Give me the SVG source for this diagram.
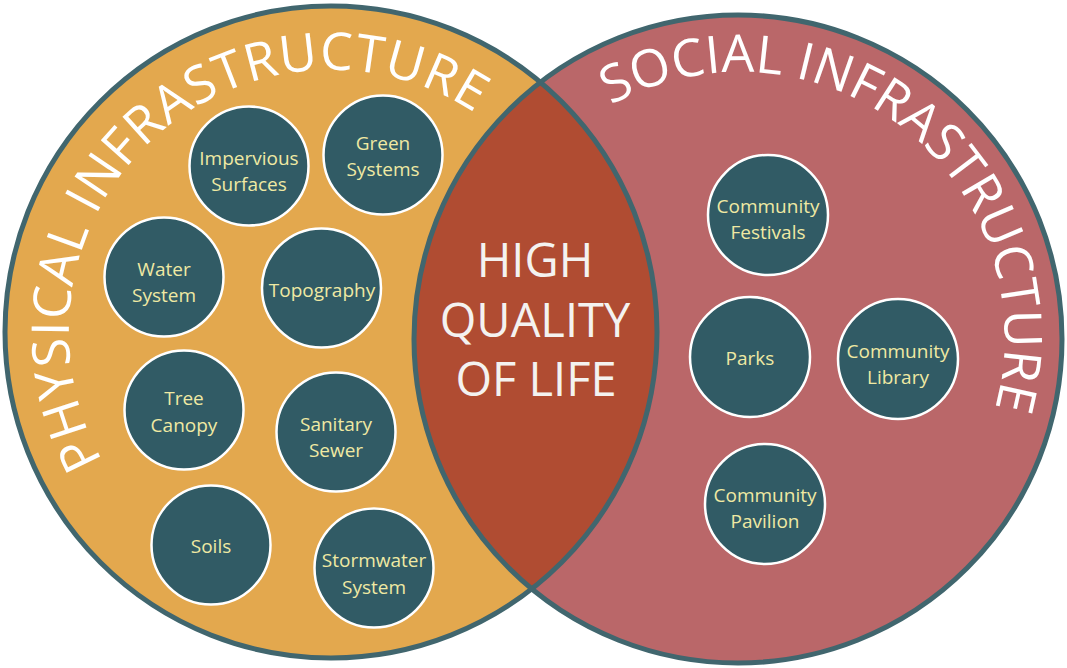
<svg xmlns="http://www.w3.org/2000/svg" width="1067" height="668" viewBox="0 0 1067 668">
<style>
.big{stroke:none}
.outline{fill:none;stroke:#41666E;stroke-width:5}
.node circle{fill:#315B65;stroke:#FFFFFF;stroke-width:2.5}
.node text{fill:#EFE9A3;font-family:"Open Sans","Noto Sans",sans-serif;font-size:19px;text-anchor:middle}
.arc{fill:#FFFFFF;font-family:"Open Sans","Noto Sans",sans-serif;font-size:52px}
.core{fill:#F4F2F0;font-family:"Open Sans","Noto Sans",sans-serif;font-size:47px;text-anchor:middle}
</style>
<defs>
<path id="pArcL" d="M136.3,507.3 A262,262 0 0 1 519.5,150"/>
<path id="pArcR" d="M532.9,171.1 A265,265 0 0 1 948.8,499.6"/>
</defs>
<g id="backgrounds">
<circle class="big" cx="331" cy="332" r="326" fill="#E3A84E"/>
<circle class="big" cx="738" cy="339" r="324" fill="#BA6769"/>
<path class="big" d="M540.5,82.1 A324,324 0 0 0 531.7,588.9 A326,326 0 0 0 540.5,82.1 Z" fill="#B04C32"/>
<circle class="outline" cx="331" cy="332" r="326"/>
<circle class="outline" cx="738" cy="339" r="324"/>
</g>
<g id="labels">
<text class="arc" letter-spacing="0.8"><textPath href="#pArcL" startOffset="50%" text-anchor="middle">PHYSICAL INFRASTRUCTURE</textPath></text>
<text class="arc"><textPath href="#pArcR" startOffset="50%" text-anchor="middle">SOCIAL INFRASTRUCTURE</textPath></text>
</g>
<g id="center">
<text class="core" x="535" y="277">HIGH</text>
<text class="core" x="535" y="337">QUALITY</text>
<text class="core" x="536" y="396">OF LIFE</text>
</g>
<g id="connectors"></g>
<g id="n-impervious" class="node"><circle cx="249" cy="166" r="59.5"/><text x="249" y="165">Impervious</text><text x="249" y="191">Surfaces</text></g>
<g id="n-green" class="node"><circle cx="383" cy="155" r="59.5"/><text x="383" y="150">Green</text><text x="383" y="176">Systems</text></g>
<g id="n-water" class="node"><circle cx="164" cy="277" r="59.5"/><text x="164" y="276">Water</text><text x="164" y="302">System</text></g>
<g id="n-topo" class="node"><circle cx="321.5" cy="288" r="59.5"/><text x="322" y="297">Topography</text></g>
<g id="n-tree" class="node"><circle cx="184" cy="410" r="59.5"/><text x="184" y="405">Tree</text><text x="184" y="432">Canopy</text></g>
<g id="n-sanitary" class="node"><circle cx="336" cy="432" r="59.5"/><text x="336" y="431">Sanitary</text><text x="336" y="457">Sewer</text></g>
<g id="n-soils" class="node"><circle cx="211" cy="545" r="59.5"/><text x="211" y="553">Soils</text></g>
<g id="n-storm" class="node"><circle cx="374" cy="568" r="59.5"/><text x="374" y="567">Stormwater</text><text x="374" y="594">System</text></g>
<g id="n-festivals" class="node"><circle cx="768" cy="215" r="60"/><text x="768" y="213">Community</text><text x="768" y="239">Festivals</text></g>
<g id="n-parks" class="node"><circle cx="750" cy="357" r="60"/><text x="750" y="365">Parks</text></g>
<g id="n-library" class="node"><circle cx="898" cy="359" r="60"/><text x="898" y="358">Community</text><text x="898" y="384">Library</text></g>
<g id="n-pavilion" class="node"><circle cx="765" cy="504" r="60"/><text x="765" y="502">Community</text><text x="765" y="528">Pavilion</text></g>
</svg>
